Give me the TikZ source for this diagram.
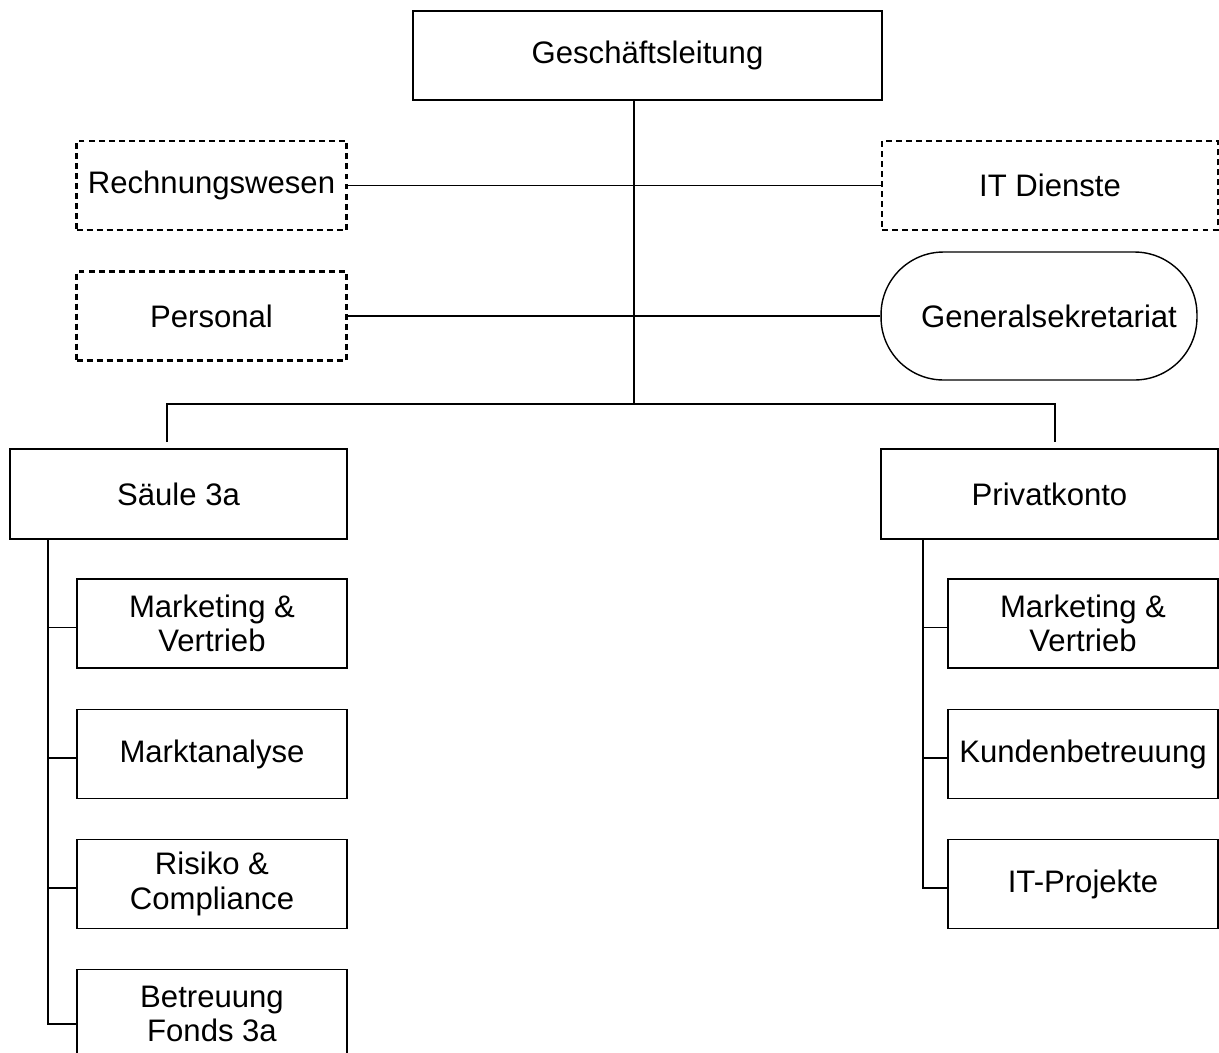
\documentclass[tikz,border=0pt]{standalone}
\usepackage{fontspec}
\setmainfont{Liberation Sans}
\usepackage{tikz}

\begin{document}
\begin{tikzpicture}[x=0.02cm, y=-0.02cm,
  box/.style={draw, line width=1.1pt, minimum width=5.4cm, minimum height=1.78cm,
    inner sep=0pt, align=center, font=\fontsize{17.7}{19.5}\selectfont},
  dbox/.style={box, line width=1.4pt, dash pattern=on 3.4pt off 2.3pt},
  link/.style={line width=0.6pt}]
\useasboundingbox (0,0) rectangle (1219,1052);

% top and staff units
\node[box, minimum width=9.38cm] (gl) at (647.5,55.5) {Geschäftsleitung};
\node[dbox] (rw) at (211.5,185.5) {Rechnungswesen};
\node[dbox] (pers) at (211.5,316) {Personal};
\node[dbox, minimum width=6.72cm] (it) at (1050,185.5) {IT Dienste};
\node[box, line width=0.8pt, rounded corners=1.25cm, minimum width=6.32cm,
  minimum height=2.56cm] (gs) at (1039,316) {\hspace{0.4cm}Generalsekretariat};

% divisions
\node[box, minimum width=6.74cm, minimum height=1.8cm] (s3a) at (178.5,494) {Säule 3a};
\node[box, minimum width=6.74cm, minimum height=1.8cm] (pk) at (1049.5,494) {Privatkonto};

\node[box] (lmv) at (212,623.5) {Marketing \&\\Vertrieb};
\node[box] (lma) at (212,754) {Marktanalyse};
\node[box] (lrc) at (212,884) {Risiko \&\\Compliance};
\node[box] (lbf) at (212,1014) {Betreuung\\Fonds 3a};

\node[box] (rmv) at (1083,623.5) {Marketing \&\\Vertrieb};
\node[box] (rkb) at (1083,754) {Kundenbetreuung};
\node[box] (rit) at (1083,884) {IT-Projekte};

\coordinate (bus) at (634,404);
\coordinate (busl) at (167,404);
\coordinate (busr) at (1055,404);
\coordinate (trl) at (48,539);
\coordinate (trr) at (923,539);

\draw[link] (gl.south -| bus) -- (bus);
\draw[link] (rw.east) -- (it.west);
\draw[link] (pers.east) -- (gs.west);
\draw[link, shorten <=0.12cm, shorten >=0.12cm] (s3a.north -| busl) -- (busl) -- (busr) -- (pk.north -| busr);
\foreach \n in {lmv, lma, lrc}
  \draw[link] (trl) |- ([yshift=-0.08cm]\n.west);
\draw[link] (trl) |- ([yshift=-0.2cm]lbf.west);
\foreach \n in {rmv, rkb, rit}
  \draw[link] (trr) |- ([yshift=-0.08cm]\n.west);
\end{tikzpicture}
\end{document}
